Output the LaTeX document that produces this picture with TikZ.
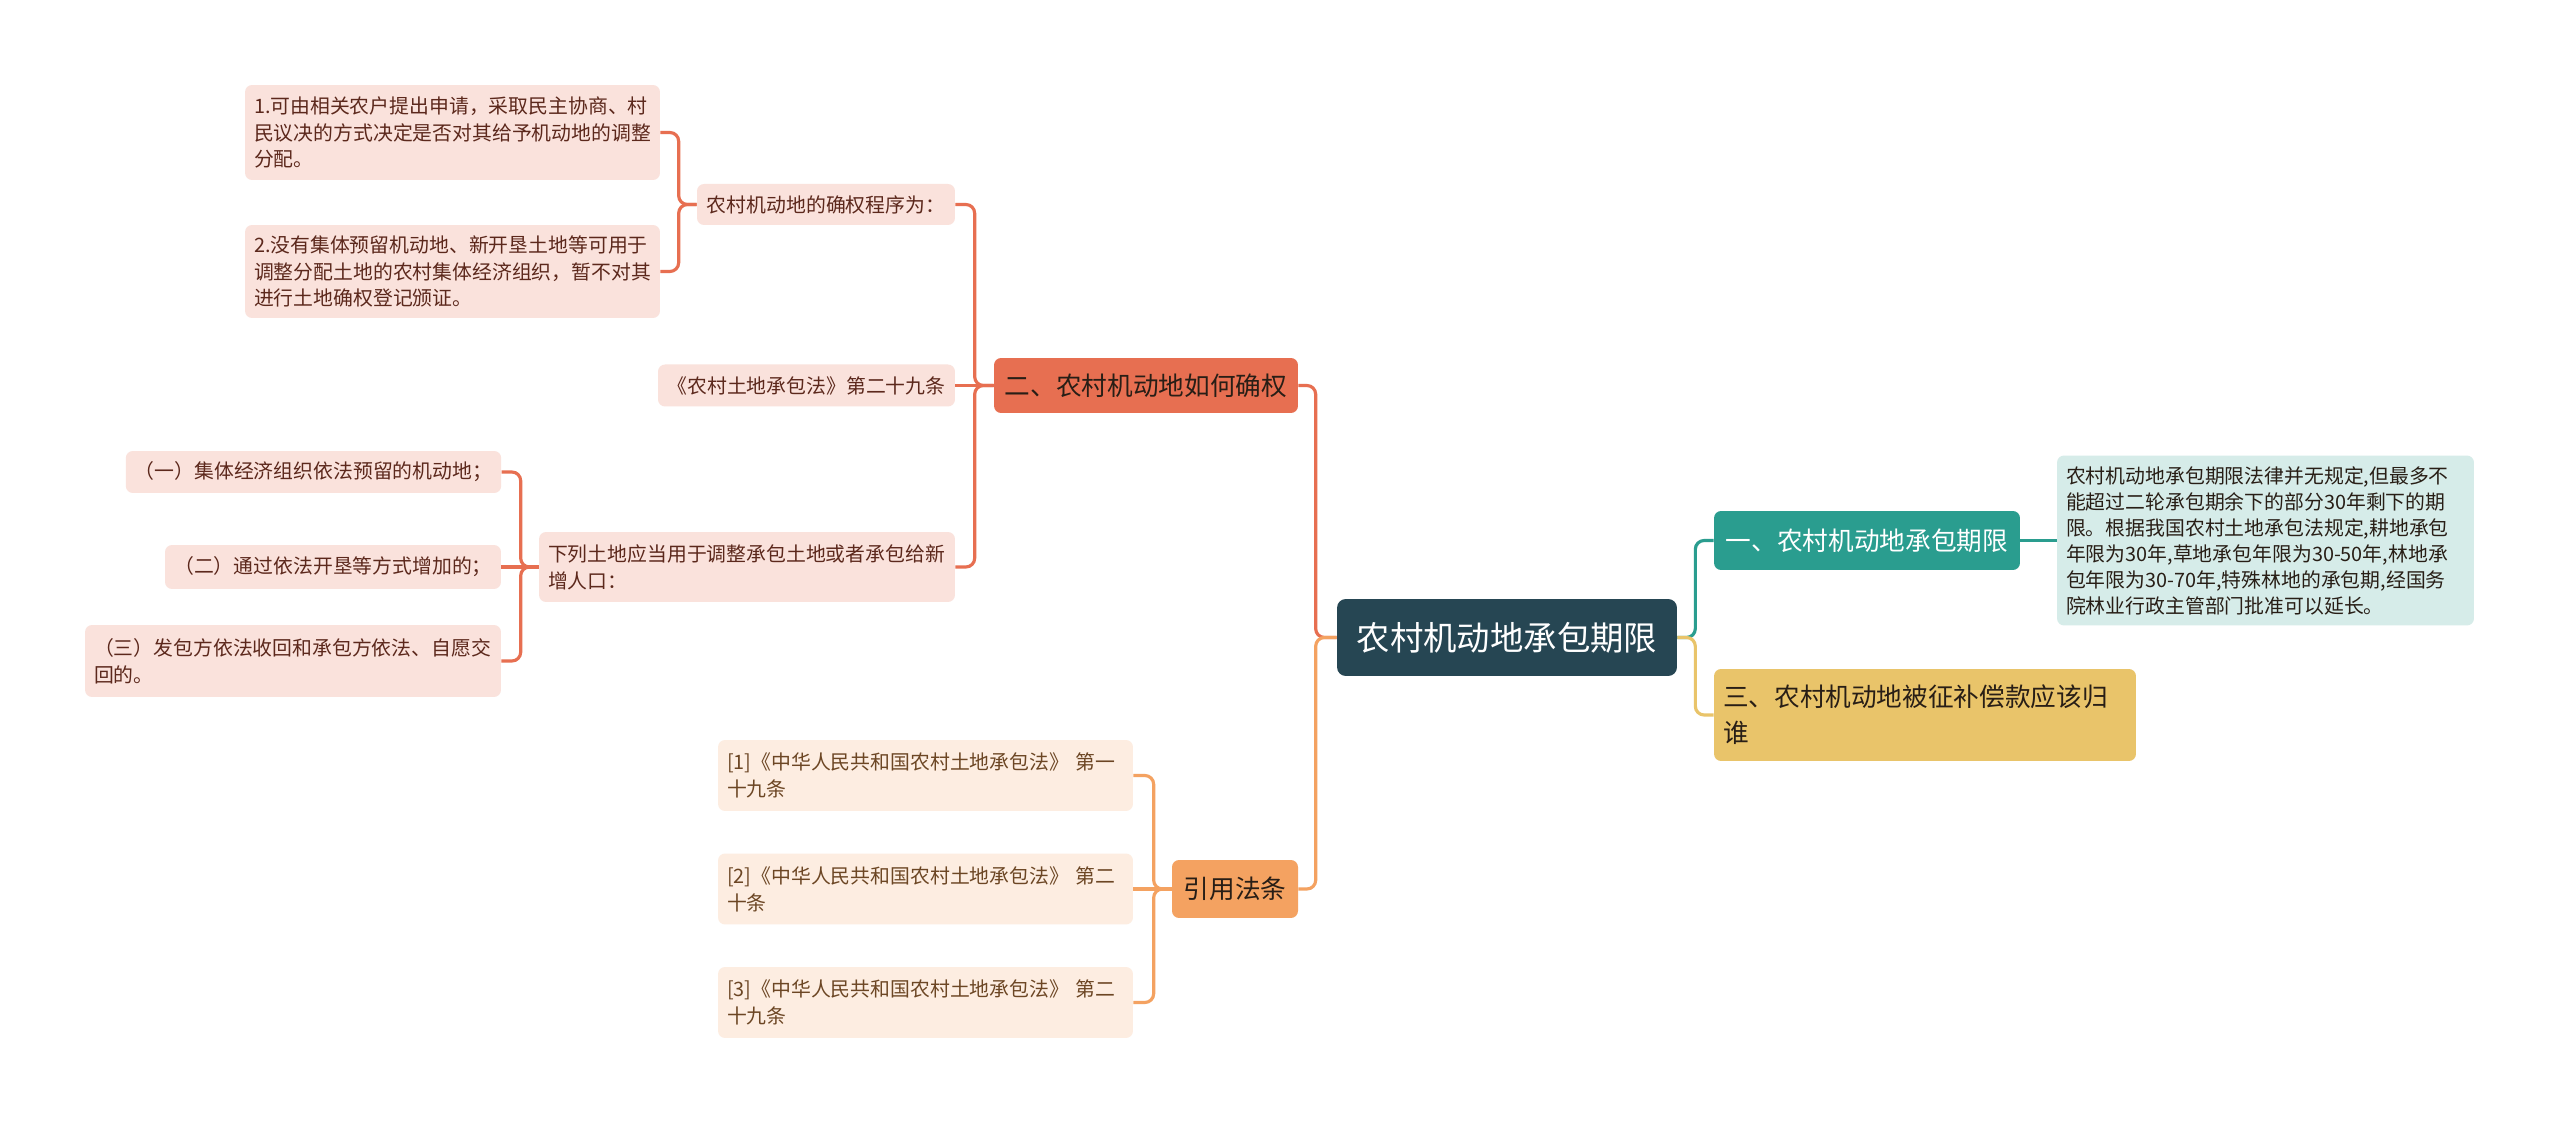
\documentclass[tikz,border=0pt]{standalone}
\usepackage{fontspec}
\setmainfont{Noto Sans CJK SC}
\usepackage{tikz}
\usepackage{xcolor}
\definecolor{mmroot}{RGB}{38,70,83}
\definecolor{mmteal}{RGB}{42,157,143}
\definecolor{mmgold}{RGB}{233,196,106}
\definecolor{mmorange}{RGB}{244,162,97}
\definecolor{mmred}{RGB}{231,111,81}
\definecolor{mmredlight}{RGB}{250,226,220}
\definecolor{mmorangelight}{RGB}{253,237,225}
\definecolor{mmteallight}{RGB}{214,236,233}
\definecolor{mmredtext}{RGB}{92,40,28}
\definecolor{mmorangetext}{RGB}{108,70,36}
\definecolor{mmdark}{RGB}{40,30,22}
\tikzstyle{link} = [line width=1.8pt, rounded corners=5pt]
\tikzstyle{topic} = [rectangle, rounded corners=5pt, fill=mmroot, text=white, font=\fontsize{19}{24}\selectfont, minimum width=6.8cm, minimum height=1.54cm]
\tikzstyle{branch} = [rectangle, rounded corners=4pt, text=mmdark, inner xsep=0.18cm, inner ysep=0pt, align=left, font=\fontsize{14.6}{20.4}\selectfont]
\tikzstyle{leafred} = [rectangle, rounded corners=4pt, fill=mmredlight, text=mmredtext, inner xsep=0.18cm, inner ysep=0pt, align=left, font=\fontsize{11.3}{15.3}\selectfont]
\tikzstyle{leaforange} = [leafred, fill=mmorangelight, text=mmorangetext]
\tikzstyle{notebox} = [leafred, fill=mmteallight, text=mmdark, font=\fontsize{11.3}{14.8}\selectfont]

\begin{document}
\begin{tikzpicture}[x=0.02cm, y=-0.02cm]
\fill[white] (0,0) rectangle (2560,1124);
% Nodes
\node (root) [topic] at (1507,637.5) {农村机动地承包期限};
\node (sec2) [branch, fill=mmred, minimum width=6.08cm, minimum height=1.1cm] at (1146,385.5) {二、农村机动地如何确权};
\node (cite) [branch, fill=mmorange, minimum width=2.52cm, minimum height=1.16cm] at (1235,889) {引用法条};
\node (sec1) [branch, fill=mmteal, text=white, minimum width=6.12cm, minimum height=1.18cm] at (1867,540.5) {一、农村机动地承包期限};
\node (sec3) [branch, fill=mmgold, text width=8.08cm, minimum height=1.84cm] at (1925,715) {三、农村机动地被征补偿款应该归\\谁};
\node (term) [notebox, text width=7.98cm, minimum height=3.4cm] at (2265.5,540.5) {农村机动地承包期限法律并无规定,但最多不\\能超过二轮承包期余下的部分30年剩下的期\\限。根据我国农村土地承包法规定,耕地承包\\年限为30年,草地承包年限为30-50年,林地承\\包年限为30-70年,特殊林地的承包期,经国务\\院林业行政主管部门批准可以延长。};

\node (steps) [leafred, minimum width=5.16cm, minimum height=0.82cm] at (826,204.5) {农村机动地的确权程序为：};
\node (step1) [leafred, text width=7.94cm, minimum height=1.9cm] at (452.5,132.5) {1.可由相关农户提出申请，采取民主协商、村\\民议决的方式决定是否对其给予机动地的调整\\分配。};
\node (step2) [leafred, text width=7.94cm, minimum height=1.86cm] at (452.5,271.5) {2.没有集体预留机动地、新开垦土地等可用于\\调整分配土地的农村集体经济组织，暂不对其\\进行土地确权登记颁证。};
\node (art29) [leafred, minimum width=5.94cm, minimum height=0.84cm] at (806.5,385.5) {《农村土地承包法》第二十九条};
\node (spare) [leafred, text width=7.96cm, minimum height=1.4cm] at (747,567) {下列土地应当用于调整承包土地或者承包给新\\增人口：};
\node (spare1) [leafred, minimum width=7.5cm, minimum height=0.84cm] at (313.5,472) {（一）集体经济组织依法预留的机动地；};
\node (spare2) [leafred, minimum width=6.72cm, minimum height=0.88cm] at (333,567) {（二）通过依法开垦等方式增加的；};
\node (spare3) [leafred, text width=7.96cm, minimum height=1.44cm] at (293,661) {（三）发包方依法收回和承包方依法、自愿交\\回的。};

\node (ref1) [leaforange, text width=7.94cm, minimum height=1.42cm] at (925.5,775.5) {[1]《中华人民共和国农村土地承包法》 第一\\十九条};
\node (ref2) [leaforange, text width=7.94cm, minimum height=1.42cm] at (925.5,889) {[2]《中华人民共和国农村土地承包法》 第二\\十条};
\node (ref3) [leaforange, text width=7.94cm, minimum height=1.42cm] at (925.5,1002.5) {[3]《中华人民共和国农村土地承包法》 第二\\十九条};

% Lines
\draw[link, mmred] (root.west) -- ++(-21,0) |- (sec2.east);
\draw[link, mmorange] (root.west) -- ++(-21,0) |- (cite.east);
\draw[link, mmteal] (root.east) -- ++(18,0) |- (sec1.west);
\draw[link, mmgold] (root.east) -- ++(18,0) |- (sec3.west);
\draw[link, mmteal] (sec1.east) -- (term.west);

\draw[link, mmred] (sec2.west) -- ++(-19,0) |- (steps.east);
\draw[link, mmred] (sec2.west) -- (art29.east);
\draw[link, mmred] (sec2.west) -- ++(-19,0) |- (spare.east);
\draw[link, mmred] (steps.west) -- ++(-18,0) |- (step1.east);
\draw[link, mmred] (steps.west) -- ++(-18,0) |- (step2.east);
\draw[link, mmred] (spare.west) -- ++(-18,0) |- (spare1.east);
\draw[link, mmred] (spare.west) -- (spare2.east);
\draw[link, mmred] (spare.west) -- ++(-18,0) |- (spare3.east);

\draw[link, mmorange] (cite.west) -- ++(-18,0) |- (ref1.east);
\draw[link, mmorange] (cite.west) -- (ref2.east);
\draw[link, mmorange] (cite.west) -- ++(-18,0) |- (ref3.east);
\end{tikzpicture}
\end{document}
